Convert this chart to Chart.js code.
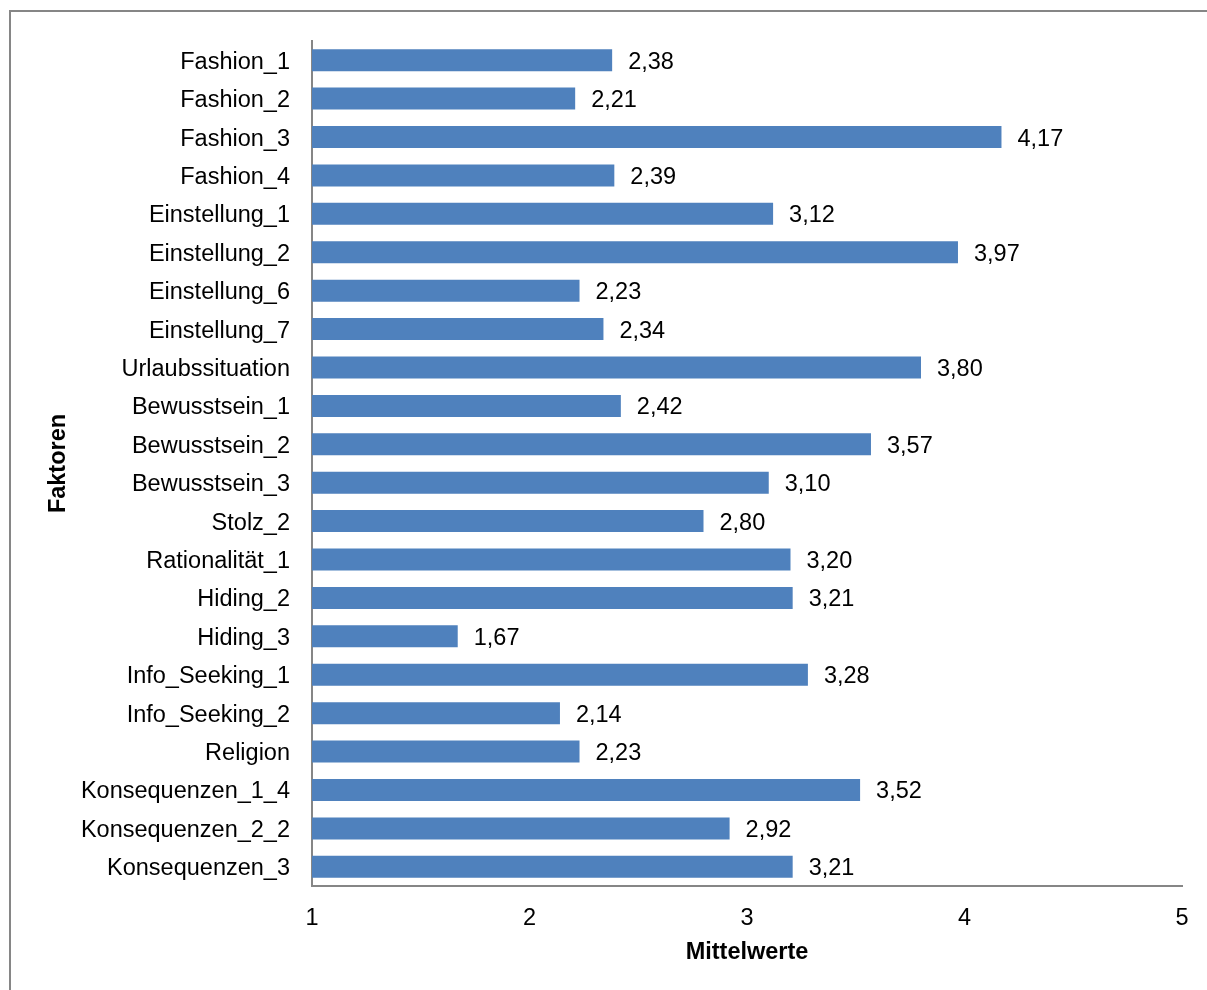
<!DOCTYPE html>
<html>
<head>
<meta charset="utf-8">
<script src="https://cdn.jsdelivr.net/npm/chart.js@4/dist/chart.umd.min.js"></script>
<style>
  html, body { margin: 0; padding: 0; background: #fff; overflow: hidden; }
  #frame { position: absolute; left: 9px; top: 10px; width: 1300px; height: 1100px; border: 2px solid #868686; }
  #wrap { position: absolute; left: 0; top: 0; width: 1207px; height: 990px; }
</style>
</head>
<body>
<div id="frame"></div>
<div id="wrap"><canvas id="myChart" width="1207" height="990"></canvas></div>
<script>
'use strict';

var categories = ['Fashion_1', 'Fashion_2', 'Fashion_3', 'Fashion_4', 'Einstellung_1', 'Einstellung_2',
  'Einstellung_6', 'Einstellung_7', 'Urlaubssituation', 'Bewusstsein_1', 'Bewusstsein_2', 'Bewusstsein_3',
  'Stolz_2', 'Rationalität_1', 'Hiding_2', 'Hiding_3', 'Info_Seeking_1', 'Info_Seeking_2', 'Religion',
  'Konsequenzen_1_4', 'Konsequenzen_2_2', 'Konsequenzen_3'];
var mittelwerte = [2.38, 2.21, 4.17, 2.39, 3.12, 3.97, 2.23, 2.34, 3.80, 2.42, 3.57, 3.10,
  2.80, 3.20, 3.21, 1.67, 3.28, 2.14, 2.23, 3.52, 2.92, 3.21];
var xTicks = [1, 2, 3, 4, 5];

var fontFamily = "'Liberation Sans', Arial, sans-serif";
var fontSize = 23.5;
var axisGray = '#868686';

// value labels at the end of each bar, german decimal comma
var valueLabels = {
  id: 'valueLabels',
  afterDatasetsDraw: function (chart) {
    var ctx = chart.ctx;
    var meta = chart.getDatasetMeta(0);
    ctx.save();
    ctx.font = fontSize + 'px ' + fontFamily;
    ctx.fillStyle = '#000';
    ctx.textAlign = 'left';
    ctx.textBaseline = 'middle';
    meta.data.forEach(function (bar, i) {
      var txt = mittelwerte[i].toFixed(2).replace('.', ',');
      ctx.fillText(txt, bar.x + 16, bar.y + 2);
    });
    ctx.restore();
  }
};

var ctx = document.getElementById('myChart').getContext('2d');
var myChart = new Chart(ctx, {
  type: 'bar',
  data: {
    labels: categories,
    datasets: [{
      label: 'Mittelwerte',
      data: mittelwerte,
      base: 1,
      backgroundColor: '#4F81BD',
      borderWidth: 0,
      barPercentage: 0.573,
      categoryPercentage: 1
    }]
  },
  options: {
    indexAxis: 'y',
    responsive: false,
    animation: false,
    layout: { padding: { left: 40, top: 41, right: 25, bottom: 19 } },
    plugins: {
      legend: { display: false },
      tooltip: { enabled: false }
    },
    scales: {
      x: {
        min: 1,
        max: 5,
        afterBuildTicks: function (scale) {
          scale.ticks = xTicks.map(function (v) { return { value: v }; });
        },
        afterFit: function (scale) { scale.height = 85; },
        grid: { display: false, drawTicks: false },
        border: { display: true, color: axisGray, width: 2 },
        ticks: { color: '#000', padding: 18, font: { family: fontFamily, size: fontSize } },
        title: {
          display: true,
          text: 'Mittelwerte',
          color: '#000',
          font: { family: fontFamily, size: fontSize, weight: 'bold' },
          padding: { top: 4, bottom: 4 }
        }
      },
      y: {
        afterFit: function (scale) { scale.width = 312 - 40; },
        grid: { display: false, drawTicks: false },
        border: { display: true, color: axisGray, width: 2 },
        ticks: { color: '#000', padding: 22, labelOffset: 2, autoSkip: false, font: { family: fontFamily, size: fontSize } },
        title: {
          display: true,
          text: 'Faktoren',
          color: '#000',
          font: { family: fontFamily, size: fontSize, weight: 'bold' },
          padding: { top: 4, bottom: 4 }
        }
      }
    }
  },
  plugins: [valueLabels]
});
</script>
</body>
</html>
